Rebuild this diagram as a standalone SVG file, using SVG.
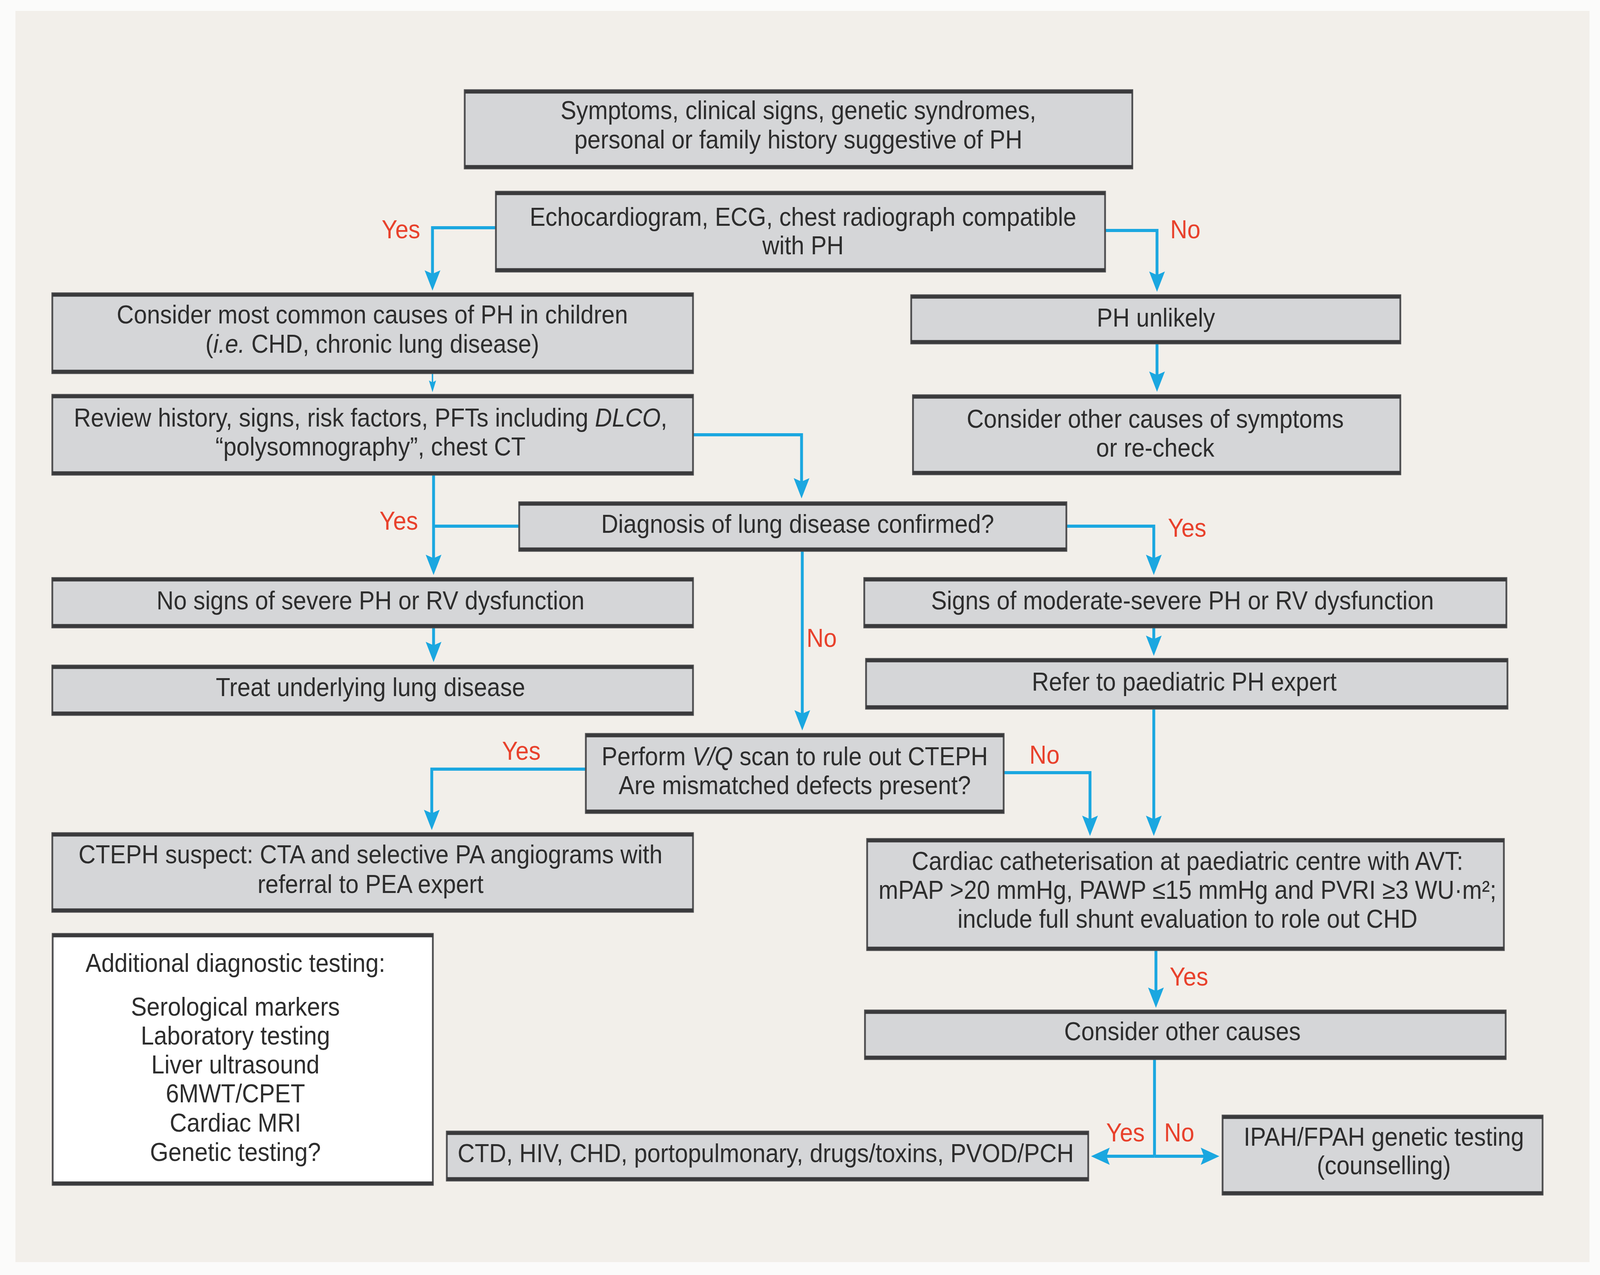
<svg xmlns="http://www.w3.org/2000/svg" width="4464" height="3264" viewBox="0 0 4464 3264">
<defs>
<style>
.box{fill:#d5d6d8;stroke:#505052;stroke-width:5}
.wbox{fill:#ffffff;stroke:#505052;stroke-width:5}
.edge{fill:none;stroke:#3a3a3c;stroke-width:9}
.t{font-family:"Liberation Sans",Arial,sans-serif;font-size:66px;fill:#2d2d2d;text-anchor:middle}
.lbl{font-family:"Liberation Sans",Arial,sans-serif;font-size:66px;fill:#e8412c;text-anchor:middle}
.c{fill:none;stroke:#1ba7e0;stroke-width:8}
.cs{fill:none;stroke:#1ba7e0;stroke-width:4}
.i{font-style:italic}
</style>
<marker id="ar" viewBox="0 -23 52 46" markerWidth="52" markerHeight="46" refX="12" refY="0" orient="auto" markerUnits="userSpaceOnUse">
<path d="M0,-22 L52,0 L0,22 L9,0 Z" fill="#1ba7e0"/>
</marker>
<marker id="as" viewBox="0 -11 30 22" markerWidth="30" markerHeight="22" refX="8" refY="0" orient="auto" markerUnits="userSpaceOnUse">
<path d="M0,-10 L30,0 L0,10 L5,0 Z" fill="#1ba7e0"/>
</marker>
</defs>
<rect x="0" y="0" width="4464" height="3264" fill="#fbfbfa"/>
<g id="diagram" transform="scale(0.9173 1)">
<rect x="43" y="28" width="4393" height="3203" fill="#f2efea"/>

<g id="connectors">
<path class="c" d="M1386,583 H1207 V704" marker-end="url(#ar)"/>
<path class="c" d="M3085,590 H3229 V707" marker-end="url(#ar)"/>
<path class="cs" d="M1207,956 V982" marker-end="url(#as)"/>
<path class="c" d="M3229,880 V963" marker-end="url(#ar)"/>
<path class="c" d="M1935,1113 H2237 V1236" marker-end="url(#ar)"/>
<path class="c" d="M1210,1216 V1432" marker-end="url(#ar)"/>
<path class="c" d="M1449,1347 H1210"/>
<path class="c" d="M2976,1347 H3220 V1432" marker-end="url(#ar)"/>
<path class="c" d="M2239,1411 V1830" marker-end="url(#ar)"/>
<path class="c" d="M1210,1607 V1655" marker-end="url(#ar)"/>
<path class="c" d="M3220,1607 V1639" marker-end="url(#ar)"/>
<path class="c" d="M3220,1815 V2100" marker-end="url(#ar)"/>
<path class="c" d="M1635,1969 H1205 V2085" marker-end="url(#ar)"/>
<path class="c" d="M2801,1978 H3042 V2100" marker-end="url(#ar)"/>
<path class="c" d="M3226,2433 V2540" marker-end="url(#ar)"/>
<path class="c" d="M3222,2712 V2960"/>
<path class="c" d="M3222,2960 H3085" marker-end="url(#ar)"/>
<path class="c" d="M3222,2960 H3363" marker-end="url(#ar)"/>
<text class="lbl" x="1119" y="610">Yes</text>
<text class="lbl" x="3308" y="610">No</text>
<text class="lbl" x="1113" y="1356">Yes</text>
<text class="lbl" x="3313" y="1374">Yes</text>
<text class="lbl" x="2293" y="1656">No</text>
<text class="lbl" x="1455" y="1945">Yes</text>
<text class="lbl" x="2915" y="1955">No</text>
<text class="lbl" x="3318" y="2523">Yes</text>
<text class="lbl" x="3141" y="2922">Yes</text>
<text class="lbl" x="3291" y="2922">No</text>
</g>

<g id="n1">
<rect class="box" x="1297" y="231" width="1863" height="200"/>
<path class="edge" d="M1297,235 H3160 M1297,427 H3160"/>
<text class="t" x="2228" y="305">Symptoms, clinical signs, genetic syndromes,</text>
<text class="t" x="2228" y="380">personal or family history suggestive of PH</text>
</g>
<g id="n2">
<rect class="box" x="1384" y="491" width="1700" height="204"/>
<path class="edge" d="M1384,495 H3084 M1384,691 H3084"/>
<text class="t" x="2241" y="578">Echocardiogram, ECG, chest radiograph compatible</text>
<text class="t" x="2241" y="651">with PH</text>
</g>
<g id="n3">
<rect class="box" x="146" y="751" width="1788" height="204"/>
<path class="edge" d="M146,755 H1934 M146,951 H1934"/>
<text class="t" x="1039" y="828">Consider most common causes of PH in children</text>
<text class="t" x="1039" y="903">(<tspan class="i">i.e.</tspan> CHD, chronic lung disease)</text>
</g>
<g id="n4">
<rect class="box" x="2543" y="756" width="1365" height="123"/>
<path class="edge" d="M2543,760 H3908 M2543,875 H3908"/>
<text class="t" x="3226" y="836">PH unlikely</text>
</g>
<g id="n5">
<rect class="box" x="146" y="1011" width="1788" height="204"/>
<path class="edge" d="M146,1015 H1934 M146,1211 H1934"/>
<text class="t" x="1034" y="1092">Review history, signs, risk factors, PFTs including <tspan class="i">DLCO</tspan>,</text>
<text class="t" x="1034" y="1166">“polysomnography”, chest CT</text>
</g>
<g id="n6">
<rect class="box" x="2548" y="1012" width="1360" height="202"/>
<path class="edge" d="M2548,1016 H3908 M2548,1210 H3908"/>
<text class="t" x="3224" y="1095">Consider other causes of symptoms</text>
<text class="t" x="3224" y="1169">or re-check</text>
</g>
<g id="n7">
<rect class="box" x="1449" y="1286" width="1527" height="124"/>
<path class="edge" d="M1449,1290 H2976 M1449,1406 H2976"/>
<text class="t" x="2226" y="1364">Diagnosis of lung disease confirmed?</text>
</g>
<g id="n8">
<rect class="box" x="146" y="1480" width="1788" height="126"/>
<path class="edge" d="M146,1484 H1934 M146,1602 H1934"/>
<text class="t" x="1034" y="1560">No signs of severe PH or RV dysfunction</text>
</g>
<g id="n9">
<rect class="box" x="2412" y="1480" width="1792" height="126"/>
<path class="edge" d="M2412,1484 H4204 M2412,1602 H4204"/>
<text class="t" x="3300" y="1560">Signs of moderate-severe PH or RV dysfunction</text>
</g>
<g id="n10">
<rect class="box" x="146" y="1704" width="1788" height="126"/>
<path class="edge" d="M146,1708 H1934 M146,1826 H1934"/>
<text class="t" x="1034" y="1782">Treat underlying lung disease</text>
</g>
<g id="n11">
<rect class="box" x="2417" y="1687" width="1790" height="127"/>
<path class="edge" d="M2417,1691 H4207 M2417,1810 H4207"/>
<text class="t" x="3305" y="1768">Refer to paediatric PH expert</text>
</g>
<g id="n12">
<rect class="box" x="1635" y="1879" width="1166" height="202"/>
<path class="edge" d="M1635,1883 H2801 M1635,2077 H2801"/>
<text class="t" x="2218" y="1959">Perform <tspan class="i">V/Q</tspan> scan to rule out CTEPH</text>
<text class="t" x="2218" y="2033">Are mismatched defects present?</text>
</g>
<g id="n13">
<rect class="box" x="146" y="2133" width="1788" height="201"/>
<path class="edge" d="M146,2137 H1934 M146,2330 H1934"/>
<text class="t" x="1034" y="2210">CTEPH suspect: CTA and selective PA angiograms with</text>
<text class="t" x="1034" y="2286">referral to PEA expert</text>
</g>
<g id="n14">
<rect class="box" x="2420" y="2148" width="1777" height="284"/>
<path class="edge" d="M2420,2152 H4197 M2420,2428 H4197"/>
<text class="t" x="3314" y="2227">Cardiac catheterisation at paediatric centre with AVT:</text>
<text class="t" x="3314" y="2301">mPAP &gt;20 mmHg, PAWP ≤15 mmHg and PVRI ≥3 WU·m²;</text>
<text class="t" x="3314" y="2375">include full shunt evaluation to role out CHD</text>
</g>
<g id="n15">
<rect class="wbox" x="147" y="2391" width="1061" height="642"/>
<path class="edge" d="M147,2395 H1208 M147,3029 H1208"/>
<text class="t" x="657" y="2488">Additional diagnostic testing:</text>
<text class="t" x="657" y="2600">Serological markers</text>
<text class="t" x="657" y="2674">Laboratory testing</text>
<text class="t" x="657" y="2748">Liver ultrasound</text>
<text class="t" x="657" y="2822">6MWT/CPET</text>
<text class="t" x="657" y="2897">Cardiac MRI</text>
<text class="t" x="657" y="2972">Genetic testing?</text>
</g>
<g id="n16">
<rect class="box" x="2414" y="2587" width="1788" height="124"/>
<path class="edge" d="M2414,2591 H4202 M2414,2707 H4202"/>
<text class="t" x="3300" y="2663">Consider other causes</text>
</g>
<g id="n17">
<rect class="box" x="1247" y="2897" width="1790" height="125"/>
<path class="edge" d="M1247,2901 H3037 M1247,3018 H3037"/>
<text class="t" x="2137" y="2975">CTD, HIV, CHD, portopulmonary, drugs/toxins, PVOD/PCH</text>
</g>
<g id="n18">
<rect class="box" x="3412" y="2856" width="893" height="202"/>
<path class="edge" d="M3412,2860 H4305 M3412,3054 H4305"/>
<text class="t" x="3862" y="2933">IPAH/FPAH genetic testing</text>
<text class="t" x="3862" y="3006">(counselling)</text>
</g>
</g>
</svg>
